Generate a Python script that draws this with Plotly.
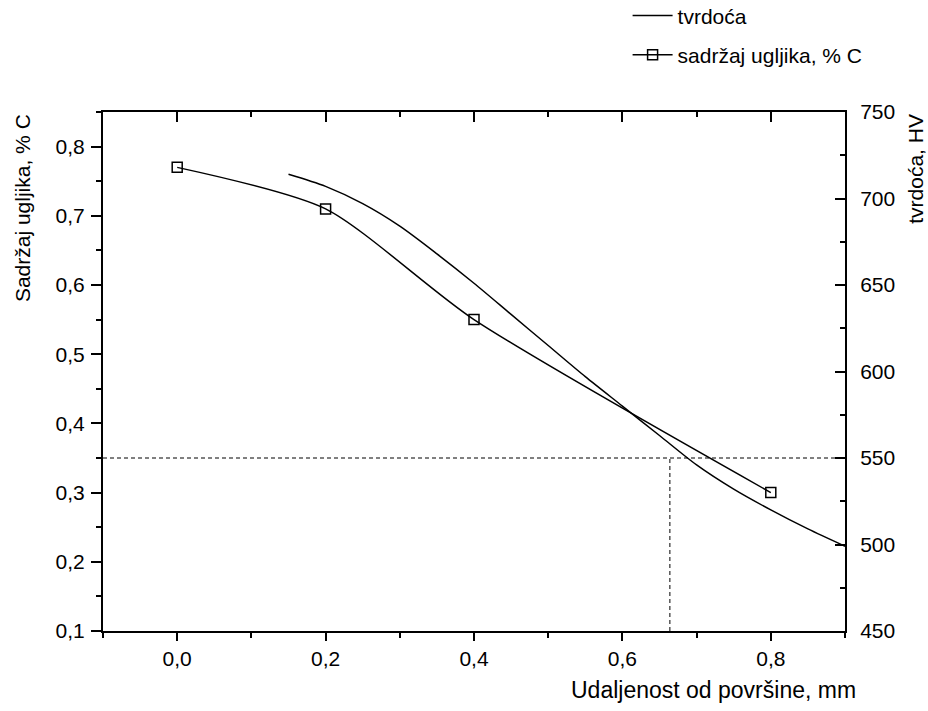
import plotly.graph_objects as go

# carbon content measured at depth (left axis)
depth_mm = [0.0, 0.2, 0.4, 0.8]
carbon_pct = [0.77, 0.71, 0.55, 0.30]

# hardness curve (right axis)
hv_depth = [0.15, 0.2, 0.25, 0.3, 0.35, 0.4, 0.45, 0.5, 0.55, 0.6, 0.65, 0.7, 0.75, 0.8, 0.85, 0.9]
hv_value = [714, 707, 697, 684, 668, 651, 633, 615, 597, 580, 563, 546, 532, 520, 509, 499]

# 550 HV limit and resulting effective depth
limit_hv = 550
limit_depth = 0.664

X_RANGE = [-0.1, 0.9]
C_RANGE = [0.1, 0.85]
HV_RANGE = [450, 750]

FONT = "Liberation Sans, Arial, sans-serif"
BLACK = "#000000"

fig = go.Figure()

fig.add_trace(go.Scatter(
    x=hv_depth, y=hv_value, yaxis="y2", mode="lines", name="tvrdoća",
    line=dict(color=BLACK, width=1.5, shape="spline", smoothing=0.8),
    legendgroup="hv",
))
fig.add_trace(go.Scatter(
    x=depth_mm, y=carbon_pct, mode="lines+markers", name="sadržaj ugljika, % C",
    line=dict(color=BLACK, width=1.5, shape="spline", smoothing=0.7),
    marker=dict(symbol="square-open", size=10, color=BLACK, line=dict(width=1.5)),
    legendgroup="c",
))

# dashed guide lines at the 550 HV limit
fig.add_trace(go.Scatter(
    x=X_RANGE, y=[limit_hv, limit_hv], yaxis="y2", mode="lines", showlegend=False,
    line=dict(color=BLACK, width=1, dash="4px,3px"), hoverinfo="skip",
))
fig.add_trace(go.Scatter(
    x=[limit_depth, limit_depth], y=[HV_RANGE[0], limit_hv], yaxis="y2", mode="lines",
    showlegend=False, line=dict(color=BLACK, width=1, dash="4px,3px"), hoverinfo="skip",
))
# placeholder so the top frame axis gets drawn
fig.add_trace(go.Scatter(x=[None], y=[None], xaxis="x2", showlegend=False, hoverinfo="skip"))

axis_common = dict(
    showline=True, linewidth=2, linecolor=BLACK, showgrid=False, zeroline=False,
    tickwidth=2, tickcolor=BLACK, tickfont=dict(size=21, color=BLACK),
)

fig.update_layout(
    width=928, height=711,
    margin=dict(l=103, r=83, t=112, b=80, autoexpand=False),
    paper_bgcolor="white", plot_bgcolor="white",
    font=dict(family=FONT, color=BLACK, size=21),
    separators=",.",
    showlegend=True,
    legend=dict(
        x=0.707, y=1.225, xanchor="left", yanchor="top",
        bgcolor="rgba(0,0,0,0)", font=dict(size=21),
        traceorder="grouped", tracegroupgap=9, itemwidth=40,
    ),
    xaxis=dict(
        range=X_RANGE, tick0=0, dtick=0.2, tickformat=".1f",
        ticks="outside", ticklen=8,
        minor=dict(dtick=0.1, ticks="outside", ticklen=5, tickwidth=2, tickcolor=BLACK),
        anchor="y", **axis_common,
    ),
    xaxis2=dict(
        range=X_RANGE, overlaying="x", side="top", anchor="y",
        tick0=0, dtick=0.2, ticks="inside", ticklen=10, showticklabels=False,
        minor=dict(dtick=0.1, ticks="inside", ticklen=5, tickwidth=2, tickcolor=BLACK),
        **axis_common,
    ),
    yaxis=dict(
        range=C_RANGE, tick0=0, dtick=0.1, tickformat=".1f",
        ticks="outside", ticklen=10, ticklabelstandoff=2,
        minor=dict(dtick=0.05, ticks="outside", ticklen=5, tickwidth=2, tickcolor=BLACK),
        **axis_common,
    ),
    yaxis2=dict(
        range=HV_RANGE, overlaying="y", side="right", anchor="x",
        tick0=0, dtick=50, ticks="inside", ticklen=10, ticklabelstandoff=9,
        minor=dict(dtick=25, ticks="inside", ticklen=5, tickwidth=2, tickcolor=BLACK),
        **axis_common,
    ),
)

# axis titles placed like the original (top / right aligned)
fig.add_annotation(
    text="Sadržaj ugljika, % C", xref="paper", yref="paper", x=-0.109, y=1.0,
    xanchor="center", yanchor="top", textangle=-90, showarrow=False,
    font=dict(size=21),
)
fig.add_annotation(
    text="tvrdoća, HV", xref="paper", yref="paper", x=1.094, y=1.0,
    xanchor="center", yanchor="top", textangle=-90, showarrow=False,
    font=dict(size=21),
)
fig.add_annotation(
    text="Udaljenost od površine, mm", xref="paper", yref="paper", x=1.0175, y=-0.114,
    xanchor="right", yanchor="middle", showarrow=False, font=dict(size=23),
)

# the page's default body margin shifts the chart; drop it
fig.write_html(
    "out.html",
    config={"displayModeBar": False},
    post_script="document.body.style.margin='0';",
)
